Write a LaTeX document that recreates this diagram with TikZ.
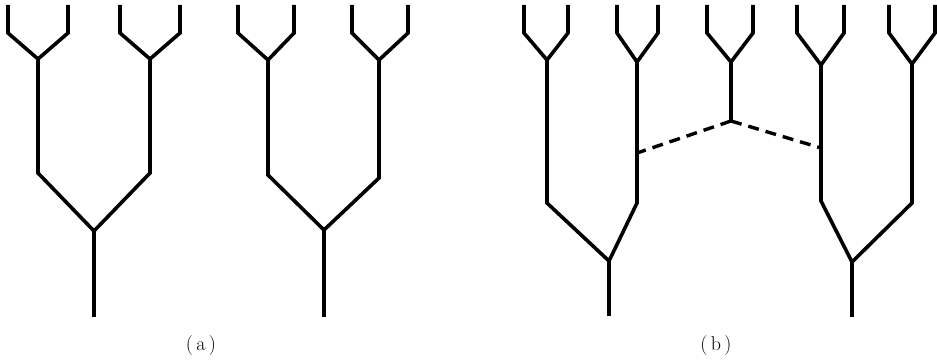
\documentclass[tikz,border=0pt]{standalone}
\usepackage{fontspec}
\begin{document}
\begin{tikzpicture}[x=1pt,y=-1pt,
  branch/.style={line width=3.6pt,line join=miter,line cap=butt,black},
  link/.style={line width=3.4pt,black,dash pattern=on 11pt off 7pt},
  caption/.style={font=\fontsize{20}{22}\selectfont,inner sep=0pt}]
\useasboundingbox (0,0) rectangle (937,361);
% small Y macro: name, left leaf x, right leaf x, vertex x, vertex y
\newcommand{\myY}[5]{%
  \coordinate (#1l) at (#2,5);
  \coordinate (#1la) at (#2,33);
  \coordinate (#1r) at (#3,5);
  \coordinate (#1ra) at (#3,33);
  \coordinate (#1v) at (#4,#5);
  \draw[branch] (#1l) -- (#1la) -- (#1v) -- (#1ra) -- (#1r);}
% ---------- (a) tree 1
\myY{A}{8}{68}{38}{59}
\myY{B}{120}{180}{150}{59}
\coordinate (Ab) at (38,173);
\coordinate (Bb) at (150,173);
\coordinate (Rab) at (94,231);
\coordinate (Rae) at (94,317);
\draw[branch] (Av) -- (Ab) -- (Rab) -- (Bb) -- (Bv);
\draw[branch] (Rab) -- (Rae);
% ---------- (a) tree 2
\myY{C}{238}{294}{268}{60}
\myY{D}{352}{408}{379}{60}
\coordinate (Cb) at (268,175);
\coordinate (Db) at (379,178);
\coordinate (Rcd) at (324,230);
\coordinate (Rce) at (324,317);
\draw[branch] (Cv) -- (Cb) -- (Rcd) -- (Db) -- (Dv);
\draw[branch] (Rcd) -- (Rce);
% ---------- (b) left tree
\myY{E}{524}{568}{547}{60}
\myY{F}{617}{658}{637}{62}
\coordinate (Eb) at (547,203);
\coordinate (Fb) at (637,203);
\coordinate (Ref) at (609,261);
\coordinate (Ree) at (609,316);
\draw[branch] (Ev) -- (Eb) -- (Ref) -- (Fb) -- (Fv);
\draw[branch] (Ref) -- (Ree);
% ---------- (b) middle Y
\myY{G}{707}{753}{731}{62}
\coordinate (Gb) at (731,121);
\draw[branch] (Gv) -- (Gb);
% ---------- (b) right tree
\myY{H}{797}{844}{821}{65}
\myY{K}{889}{935}{912}{64}
\coordinate (Hb) at (821,201);
\coordinate (Kb) at (912,203);
\coordinate (Rhk) at (852,262);
\coordinate (Rhe) at (852,317);
\draw[branch] (Hv) -- (Hb) -- (Rhk) -- (Kb) -- (Kv);
\draw[branch] (Rhk) -- (Rhe);
% ---------- dashed links
\coordinate (Fj) at (637,153);
\coordinate (Hj) at (821,148);
\draw[link] (Gb) -- (Fj);
\draw[link] (Gb) -- (Hj);
% ---------- captions
\node[caption] (capa) at (201,346) {(\,a\,)};
\node[caption] (capb) at (716,346) {(\,b\,)};
\end{tikzpicture}
\end{document}
